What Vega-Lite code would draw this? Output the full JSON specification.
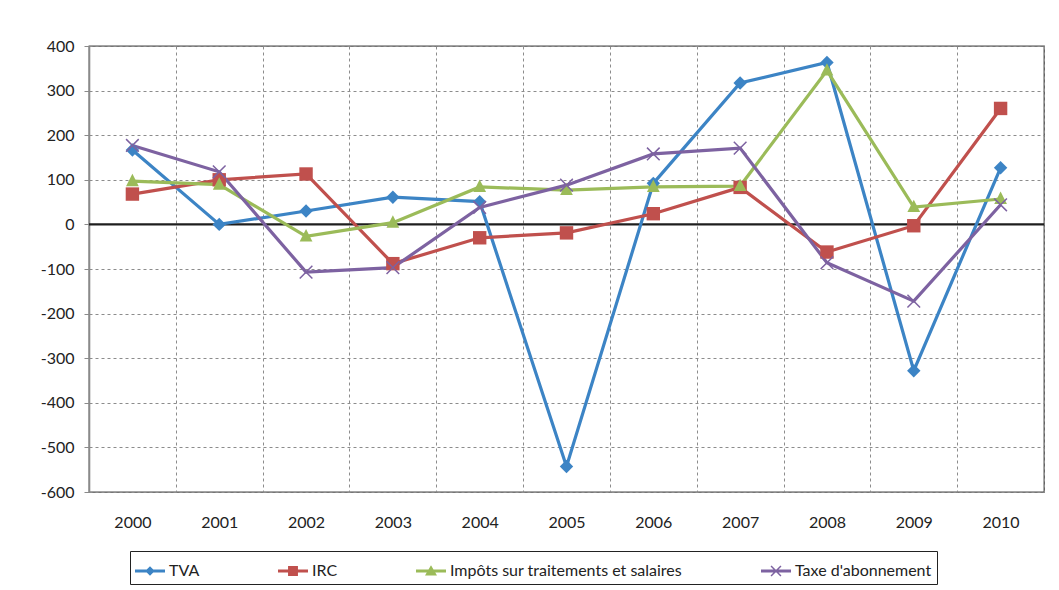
{
  "$schema": "https://vega.github.io/schema/vega-lite/v6.json",
  "width": 955,
  "height": 446,
  "autosize": {"type": "none"},
  "padding": {"left": 89, "top": 46, "right": 15, "bottom": 98},
  "background": "white",
  "config": {
    "font": "Lato",
    "view": {"stroke": "#4a4a4a", "strokeWidth": 1.3},
    "axis": {"labelFont": "Lato", "labelFontSize": 16, "labelColor": "#222222", "title": null}
  },
  "data": {
    "values": [
      {"year": "2000", "series": "TVA", "value": 167},
      {"year": "2001", "series": "TVA", "value": 0},
      {"year": "2002", "series": "TVA", "value": 30},
      {"year": "2003", "series": "TVA", "value": 61},
      {"year": "2004", "series": "TVA", "value": 51},
      {"year": "2005", "series": "TVA", "value": -543},
      {"year": "2006", "series": "TVA", "value": 92},
      {"year": "2007", "series": "TVA", "value": 317},
      {"year": "2008", "series": "TVA", "value": 363},
      {"year": "2009", "series": "TVA", "value": -328},
      {"year": "2010", "series": "TVA", "value": 127},
      {"year": "2000", "series": "IRC", "value": 68},
      {"year": "2001", "series": "IRC", "value": 100},
      {"year": "2002", "series": "IRC", "value": 113},
      {"year": "2003", "series": "IRC", "value": -88},
      {"year": "2004", "series": "IRC", "value": -30},
      {"year": "2005", "series": "IRC", "value": -19},
      {"year": "2006", "series": "IRC", "value": 24},
      {"year": "2007", "series": "IRC", "value": 83},
      {"year": "2008", "series": "IRC", "value": -62},
      {"year": "2009", "series": "IRC", "value": -3},
      {"year": "2010", "series": "IRC", "value": 260},
      {"year": "2000", "series": "Impôts sur traitements et salaires", "value": 97},
      {"year": "2001", "series": "Impôts sur traitements et salaires", "value": 89},
      {"year": "2002", "series": "Impôts sur traitements et salaires", "value": -27},
      {"year": "2003", "series": "Impôts sur traitements et salaires", "value": 4},
      {"year": "2004", "series": "Impôts sur traitements et salaires", "value": 84},
      {"year": "2005", "series": "Impôts sur traitements et salaires", "value": 77},
      {"year": "2006", "series": "Impôts sur traitements et salaires", "value": 84},
      {"year": "2007", "series": "Impôts sur traitements et salaires", "value": 86},
      {"year": "2008", "series": "Impôts sur traitements et salaires", "value": 345},
      {"year": "2009", "series": "Impôts sur traitements et salaires", "value": 39},
      {"year": "2010", "series": "Impôts sur traitements et salaires", "value": 57},
      {"year": "2000", "series": "Taxe d'abonnement", "value": 177},
      {"year": "2001", "series": "Taxe d'abonnement", "value": 118},
      {"year": "2002", "series": "Taxe d'abonnement", "value": -107},
      {"year": "2003", "series": "Taxe d'abonnement", "value": -97},
      {"year": "2004", "series": "Taxe d'abonnement", "value": 38},
      {"year": "2005", "series": "Taxe d'abonnement", "value": 88},
      {"year": "2006", "series": "Taxe d'abonnement", "value": 158},
      {"year": "2007", "series": "Taxe d'abonnement", "value": 171},
      {"year": "2008", "series": "Taxe d'abonnement", "value": -86},
      {"year": "2009", "series": "Taxe d'abonnement", "value": -172},
      {"year": "2010", "series": "Taxe d'abonnement", "value": 44}
    ]
  },
  "layer": [
    {
      "data": {"values": [{"zero": 0}]},
      "mark": {"type": "rule", "color": "#1e1e1e", "strokeWidth": 2.2},
      "encoding": {
        "y": {"field": "zero", "type": "quantitative", "scale": {"domain": [-600, 400], "nice": false, "zero": false}}
      }
    },
    {
      "mark": {"type": "line", "strokeWidth": 3.2},
      "encoding": {
        "x": {
          "field": "year", "type": "nominal",
          "scale": {"type": "band", "paddingInner": 0, "paddingOuter": 0},
          "axis": {"tickBand": "extent", "grid": true, "gridDash": [3, 3], "gridColor": "#8c8c8c", "gridWidth": 1, "domain": false, "ticks": false, "labelPadding": 22, "labelAngle": 0}
        },
        "y": {
          "field": "value", "type": "quantitative",
          "scale": {"domain": [-600, 400], "nice": false, "zero": false},
          "axis": {"values": [-600, -500, -400, -300, -200, -100, 0, 100, 200, 300, 400], "labelExpr": "'' + datum.value", "grid": true, "gridDash": [3, 3], "gridColor": "#8c8c8c", "gridWidth": 1, "domainColor": "#8a8a8a", "domainWidth": 1.6, "tickColor": "#8a8a8a", "tickSize": 5, "labelPadding": 10}
        },
        "color": {
          "field": "series", "type": "nominal",
          "scale": {
            "domain": ["TVA", "IRC", "Impôts sur traitements et salaires", "Taxe d'abonnement"],
            "range": ["#3c84c5", "#c0504d", "#9bbb59", "#7d62a1"]
          },
          "legend": {
            "title": null,
            "orient": "none",
            "legendX": 41,
            "legendY": 505,
            "direction": "horizontal",
            "columns": 4,
            "columnPadding": 78,
            "symbolSize": 900,
            "symbolStrokeWidth": 0,
            "labelFont": "Lato",
            "labelFontSize": 16,
            "labelColor": "#222222",
            "labelOffset": 4,
            "labelLimit": 400,
            "strokeColor": "#222222",
            "padding": 5,
            "encode": {
              "symbols": {
                "update": {
                  "shape": {"signal": "datum.value === 'TVA' ? 'M-1,-0.1H1V0.1H-1Z M0,-0.32L0.32,0L0,0.32L-0.32,0Z' : datum.value === 'IRC' ? 'M-1,-0.1H1V0.1H-1Z M-0.33,-0.33H0.33V0.33H-0.33Z' : indexof(datum.value, 'Imp') === 0 ? 'M-1,-0.1H1V0.1H-1Z M0,-0.38L0.4,0.3H-0.4Z' : 'M-1,-0.1H1V0.1H-1Z M-0.295,-0.365L0.365,0.295L0.295,0.365L-0.365,-0.295Z M-0.365,0.295L0.295,-0.365L0.365,-0.295L-0.295,0.365Z'"},
                  "fill": {"scale": "color", "field": "value"},
                  "fillOpacity": {"value": 1},
                  "stroke": {"value": "transparent"},
                  "opacity": {"value": 1}
                }
              }
            }
          }
        }
      }
    },
    {
      "transform": [{"filter": {"field": "series", "oneOf": ["TVA", "IRC", "Impôts sur traitements et salaires"]}}],
      "mark": {"type": "point", "filled": true, "opacity": 1, "size": 180},
      "encoding": {
        "x": {"field": "year", "type": "nominal"},
        "y": {"field": "value", "type": "quantitative"},
        "color": {"field": "series", "type": "nominal"},
        "shape": {
          "field": "series", "type": "nominal",
          "scale": {"domain": ["TVA", "IRC", "Impôts sur traitements et salaires"], "range": ["diamond", "square", "M0,-1.1L0.95,0.75H-0.95Z"]},
          "legend": null
        }
      }
    },
    {
      "transform": [{"filter": {"field": "series", "oneOf": ["Taxe d'abonnement"]}}],
      "mark": {"type": "point", "filled": false, "opacity": 1, "size": 160, "strokeWidth": 1.5, "shape": "M-1,-1L1,1M-1,1L1,-1"},
      "encoding": {
        "x": {"field": "year", "type": "nominal"},
        "y": {"field": "value", "type": "quantitative"},
        "color": {"field": "series", "type": "nominal"}
      }
    }
  ]
}
